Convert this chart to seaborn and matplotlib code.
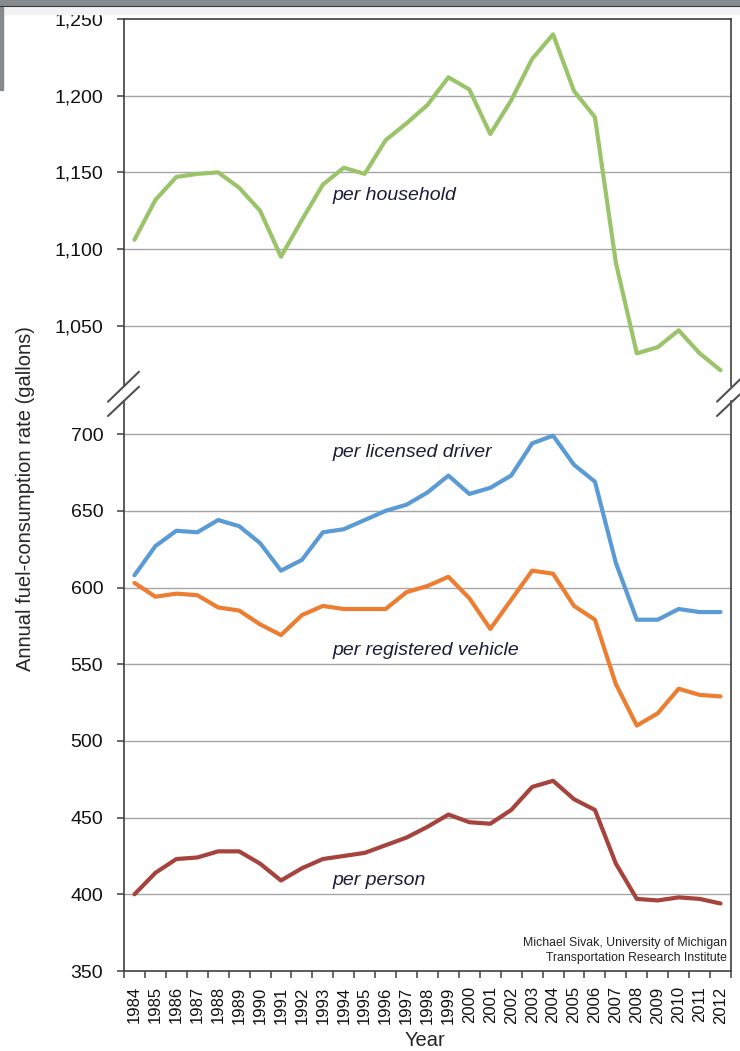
import numpy as np
import pandas as pd
import matplotlib
matplotlib.use('Agg')
import matplotlib.pyplot as plt
import matplotlib.ticker as mticker
from matplotlib.lines import Line2D
from matplotlib.patches import Rectangle
import seaborn as sns

# Data (gallons per year)
years = list(range(1984, 2013))
per_household = [1106, 1132, 1147, 1149, 1150, 1140, 1125, 1095, 1119, 1142, 1153, 1149, 1171, 1182, 1194,
                 1212, 1204, 1175, 1197, 1224, 1240, 1203, 1186, 1091, 1032, 1036, 1047, 1032, 1021]
per_driver = [608, 627, 637, 636, 644, 640, 629, 611, 618, 636, 638, 644, 650, 654, 662,
              673, 661, 665, 673, 694, 699, 680, 669, 616, 579, 579, 586, 584, 584]
per_vehicle = [603, 594, 596, 595, 587, 585, 576, 569, 582, 588, 586, 586, 586, 597, 601,
               607, 593, 573, 592, 611, 609, 588, 579, 537, 510, 518, 534, 530, 529]
per_person = [400, 414, 423, 424, 428, 428, 420, 409, 417, 423, 425, 427, 432, 437, 444,
              452, 447, 446, 455, 470, 474, 462, 455, 420, 397, 396, 398, 397, 394]

series_names = ['per household', 'per licensed driver', 'per registered vehicle', 'per person']
colors = ['#9bc46a', '#5b9bd5', '#ed7d31', '#a5433c']
label_pos = [1135, 688, 559, 409]  # y values for the italic labels

df = pd.DataFrame({
    'year': years * 4,
    'rate': per_household + per_driver + per_vehicle + per_person,
    'series': sum([[n] * len(years) for n in series_names], []),
})

sns.set_style('white')
plt.rcParams['font.family'] = ['Liberation Sans', 'DejaVu Sans']

fig = plt.figure(figsize=(7.40, 10.51), dpi=100)
W, H = 740, 1051
left, width = 124 / W, 607 / W
ax_top = fig.add_axes([left, 1 - 386 / H, width, 367 / H])
ax_bot = fig.add_axes([left, 1 - 971 / H, width, 570 / H])

spine_col = '#404040'
grid_col = '#a6a6a6'

for name, col in zip(series_names, colors):
    sub = df[df['series'] == name]
    ax = ax_top if name == 'per household' else ax_bot
    sns.lineplot(data=sub, x='year', y='rate', color=col, linewidth=3, ax=ax, legend=False)

for ax in (ax_top, ax_bot):
    ax.set_xlim(1983.5, 2012.5)
    ax.set_xlabel('')
    ax.set_ylabel('')
    ax.grid(False)
    for s in ax.spines.values():
        s.set_color(spine_col)
        s.set_linewidth(1.2)
    ax.yaxis.set_major_formatter(mticker.FuncFormatter(lambda v, p: f'{int(v):,}'))
    ax.tick_params(axis='y', direction='out', length=5, width=1.1, color=spine_col,
                   labelsize=14, pad=10, left=True, labelcolor='#111111')

# top panel
ax_top.set_ylim(1010.7, 1250)
ax_top.set_yticks([1050, 1100, 1150, 1200, 1250])
ax_top.spines['bottom'].set_visible(False)
ax_top.set_xticks([])
for v in [1050, 1100, 1150, 1200]:
    ax_top.axhline(v, color=grid_col, linewidth=1, zorder=0)

# bottom panel
ax_bot.set_ylim(350, 721.6)
ax_bot.set_yticks(list(range(350, 701, 50)))
ax_bot.spines['top'].set_visible(False)
for v in range(400, 701, 50):
    ax_bot.axhline(v, color=grid_col, linewidth=1, zorder=0)
ax_bot.set_xticks(years)
ax_bot.set_xticklabels([str(y) for y in years], rotation=90, fontsize=12, color='#111111')
ax_bot.set_xticks(np.arange(1983.5, 2013, 1.0), minor=True)
ax_bot.tick_params(axis='x', which='major', length=0, pad=11, bottom=True)
ax_bot.tick_params(axis='x', which='minor', direction='out', length=5, width=1.1,
                   color=spine_col, bottom=True)

# series labels
txt_col = '#1c1c38'
ax_top.text(1993.45, label_pos[0], series_names[0], style='italic', fontsize=14,
            color=txt_col, va='center', ha='left')
for name, yv in zip(series_names[1:], label_pos[1:]):
    ax_bot.text(1993.45, yv, name, style='italic', fontsize=14, color=txt_col,
                va='center', ha='left')

ax_bot.text(2012.3, 363.5, 'Michael Sivak, University of Michigan\nTransportation Research Institute',
            fontsize=8.8, ha='right', va='center', color='#222222', linespacing=1.35)

# axis titles
fig.text(26 / W, 1 - 499 / H, 'Annual fuel-consumption rate (gallons)', rotation=90,
         fontsize=14.5, ha='center', va='center')
fig.text(425 / W, 1 - 1041 / H, 'Year', fontsize=14.5, ha='center', va='center')

# axis break marks
for x0, x1 in [(108, 139), (717, 740)]:
    for y0, y1 in [(401.7, 371.7), (416, 386.7)]:
        yy1 = y0 + (y1 - y0) * (x1 - x0) / 31
        fig.add_artist(Line2D([x0 / W, x1 / W], [1 - y0 / H, 1 - yy1 / H],
                              color='#505050', linewidth=1.5))

# window frame remnants at the top-left
fig.add_artist(Rectangle((0, 1 - 5 / H), 1, 5 / H, transform=fig.transFigure,
                         color='#858a8e', zorder=10))
fig.add_artist(Line2D([0, 1], [1 - 5.5 / H, 1 - 5.5 / H], color='#3a3a3a', linewidth=0.8, zorder=11))
fig.add_artist(Rectangle((0, 1 - 14 / H), 1, 8 / H, transform=fig.transFigure,
                         color='#f2f2f2', zorder=1))
fig.add_artist(Rectangle((0, 1 - 90 / H), 3 / W, 90 / H, transform=fig.transFigure,
                         color='#858a8e', zorder=10))

fig.savefig('out.png', dpi=100)
